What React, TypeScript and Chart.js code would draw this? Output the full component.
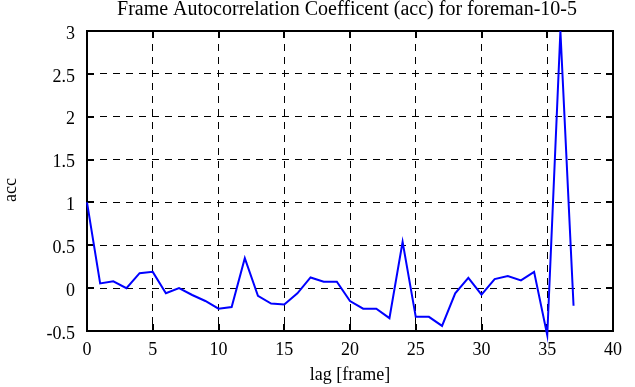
import React, { useEffect, useRef } from 'react';
import { Chart, registerables } from 'chart.js';

Chart.register(...registerables);

const lags = [0, 1, 2, 3, 4, 5, 6, 7, 8, 9, 10, 11, 12, 13, 14, 15, 16, 17, 18, 19, 20, 21, 22, 23, 24, 25, 26, 27, 28, 29, 30, 31, 32, 33, 34, 35, 36, 37];
const acc = [1.0, 0.055, 0.08, 0.0, 0.175, 0.19, -0.06, 0.0, -0.08, -0.15, -0.24, -0.22, 0.35, -0.09, -0.18, -0.19, -0.06, 0.125, 0.075, 0.075, -0.15, -0.24, -0.24, -0.35, 0.54, -0.335, -0.335, -0.44, -0.06, 0.12, -0.075, 0.105, 0.14, 0.09, 0.19, -0.55, 3.0, -0.205];
const xTicks = [0, 5, 10, 15, 20, 25, 30, 35, 40];
const yTicks = [-0.5, 0, 0.5, 1, 1.5, 2, 2.5, 3];
const titleText = 'Frame Autocorrelation Coefficent (acc) for foreman-10-5';
const xTitle = 'lag [frame]';
const yTitle = 'acc';

const FONT = "'Liberation Serif', 'Times New Roman', serif";

export default function App() {
  const ref = useRef<HTMLCanvasElement>(null);

  useEffect(() => {
    document.body.style.margin = '0';
    const canvas = ref.current;
    if (!canvas) return;

    const xMin = xTicks[0];
    const xMax = xTicks[xTicks.length - 1];
    const yMin = yTicks[0];
    const yMax = yTicks[yTicks.length - 1];

    const framePlugin = {
      id: 'frame',
      beforeDatasetsDraw(chart: any) {
        const { ctx, chartArea: a, scales } = chart;
        ctx.save();
        ctx.setLineDash([]);
        ctx.strokeStyle = '#000';
        ctx.lineWidth = 2;
        ctx.strokeRect(a.left, a.top, a.right - a.left, a.bottom - a.top);
        const L = 7;
        ctx.beginPath();
        xTicks.forEach((v) => {
          if (v === xMin || v === xMax) return;
          const px = Math.round(scales.x.getPixelForValue(v));
          ctx.moveTo(px, a.bottom);
          ctx.lineTo(px, a.bottom - L);
          ctx.moveTo(px, a.top);
          ctx.lineTo(px, a.top + L);
        });
        yTicks.forEach((v) => {
          if (v === yMin || v === yMax) return;
          const py = Math.round(scales.y.getPixelForValue(v));
          ctx.moveTo(a.left, py);
          ctx.lineTo(a.left + L, py);
          ctx.moveTo(a.right, py);
          ctx.lineTo(a.right - L, py);
        });
        ctx.stroke();
        ctx.restore();
      },
      afterDraw(chart: any) {
        const { ctx, chartArea: a } = chart;
        ctx.save();
        ctx.fillStyle = '#000';
        ctx.font = `20px ${FONT}`;
        ctx.textAlign = 'center';
        ctx.textBaseline = 'alphabetic';
        ctx.fillText(titleText, (a.left + a.right) / 2 - 3, 15);
        ctx.font = `18px ${FONT}`;
        ctx.textBaseline = 'middle';
        ctx.translate(11, (a.top + a.bottom) / 2 + 9);
        ctx.rotate(-Math.PI / 2);
        ctx.fillText(yTitle, 0, 0);
        ctx.restore();
      },
    };

    const chart = new Chart(canvas, {
      type: 'line',
      data: {
        datasets: [
          {
            data: lags.map((x, i) => ({ x, y: acc[i] })),
            borderColor: '#0000ff',
            backgroundColor: '#0000ff',
            borderWidth: 2,
            pointRadius: 0,
            tension: 0,
            fill: false,
            clip: false as any,
          },
        ],
      },
      options: {
        animation: false,
        responsive: false,
        events: [],
        layout: { padding: { top: 31, right: 22, left: 0, bottom: 0 } },
        plugins: {
          legend: { display: false },
          tooltip: { enabled: false },
          title: { display: false },
        },
        scales: {
          x: {
            type: 'linear',
            position: 'bottom',
            min: xMin,
            max: xMax,
            afterBuildTicks: (s: any) => {
              s.ticks = xTicks.map((v) => ({ value: v }));
            },
            afterFit: (s: any) => {
              s.height = 56;
            },
            ticks: {
              color: '#000',
              font: { family: FONT, size: 18 },
              padding: 8,
              maxRotation: 0,
              autoSkip: false,
              callback: (v: any) => String(v),
            },
            grid: {
              color: (c: any) =>
                c.tick && (c.tick.value === xMin || c.tick.value === xMax) ? 'rgba(0,0,0,0)' : '#000',
              lineWidth: 1,
              drawTicks: false,
            },
            border: { display: false, dash: [7, 6] },
            title: {
              display: true,
              text: xTitle,
              color: '#000',
              font: { family: FONT, size: 18, lineHeight: 1.2 },
              padding: { top: 0, bottom: 1 },
            },
          },
          y: {
            type: 'linear',
            min: yMin,
            max: yMax,
            afterBuildTicks: (s: any) => {
              s.ticks = yTicks.map((v) => ({ value: v }));
            },
            afterFit: (s: any) => {
              s.width = 87;
            },
            ticks: {
              color: '#000',
              font: { family: FONT, size: 18 },
              padding: 12,
              labelOffset: 3,
              autoSkip: false,
              callback: (v: any) => String(v),
            },
            grid: {
              color: (c: any) =>
                c.tick && (c.tick.value === yMin || c.tick.value === yMax) ? 'rgba(0,0,0,0)' : '#000',
              lineWidth: 1,
              drawTicks: false,
            },
            border: { display: false, dash: [7, 6] },
            title: { display: false },
          },
        },
      } as any,
      plugins: [framePlugin],
    });

    return () => {
      chart.destroy();
    };
  }, []);

  return <canvas ref={ref} width={635} height={387} style={{ display: 'block' }} />;
}
